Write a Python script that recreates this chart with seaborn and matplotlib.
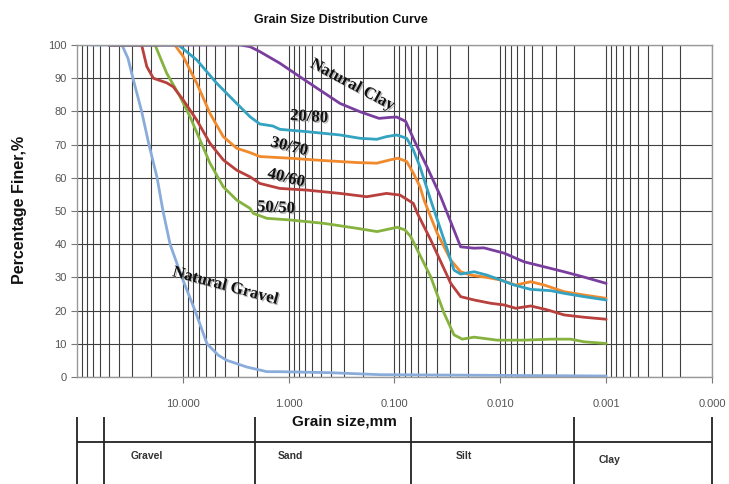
import numpy as np
import pandas as pd
import matplotlib
matplotlib.use('Agg')
import matplotlib.pyplot as plt
import matplotlib.patheffects as pe
from matplotlib import ticker
import seaborn as sns

# grain size (mm) and percentage finer
gravel_mm = [75, 37.6, 33.0, 29.6, 24.5, 20.9, 17.5, 15.4, 13.2, 10.2, 7.67, 5.91, 4.6, 3.82, 2.48, 1.60, 1.21, 0.407, 0.137, 0.001]
gravel_pct = [100, 100, 96, 90, 80, 70, 60, 50, 40, 30, 20, 10, 6.5, 5, 3, 1.6, 1.6, 1.3, 0.7, 0.3]

mix5050_mm = [50, 18.3, 14.2, 10.6, 8.55, 6.88, 5.54, 4.15, 3.10, 2.32, 2.16, 1.61, 0.971, 0.471, 0.228, 0.146,
              0.094, 0.0796, 0.0703, 0.0455, 0.034, 0.0274, 0.0229, 0.0177, 0.0107, 0.00597, 0.00334, 0.00216,
              0.00162, 0.001]
mix5050_pct = [100, 100, 91.5, 84.4, 78.4, 71.4, 64.4, 57.3, 53.3, 50.8, 49.3, 47.8, 47.3, 46.3, 44.8, 43.8,
               45.1, 44.3, 42.3, 30.2, 19.2, 12.7, 11.4, 12.0, 11.1, 11.1, 11.4, 11.4, 10.6, 10.1]

mix4060_mm = [50, 24.5, 21.9, 19.0, 14.2, 12.3, 9.9, 7.39, 5.54, 4.15, 3.10, 2.32, 1.87, 1.21, 0.676, 0.327,
              0.183, 0.119, 0.0887, 0.0664, 0.0608, 0.0455, 0.0294, 0.0237, 0.0177, 0.0123, 0.0092, 0.00716,
              0.00516, 0.00358, 0.0025, 0.00162, 0.001]
mix4060_pct = [100, 100, 93.5, 90, 88.6, 87.4, 83.4, 77.4, 70.4, 65.4, 62.3, 60.3, 58.3, 56.8, 56.3, 55.3,
               54.3, 55.3, 54.8, 52.3, 49.3, 41.3, 28.2, 24.2, 23.2, 22.2, 21.7, 20.7, 21.4, 20.2, 18.7, 18.0, 17.4]

mix3070_mm = [50, 11.9, 9.9, 7.39, 5.54, 4.15, 3.10, 2.32, 1.87, 0.971, 0.471, 0.228, 0.147, 0.110, 0.0927,
              0.0767, 0.0664, 0.0574, 0.0526, 0.0396, 0.0294, 0.0237, 0.0191, 0.0134, 0.0099, 0.00716, 0.00516,
              0.00386, 0.0025, 0.00162, 0.001]
mix3070_pct = [100, 100, 96.5, 88.5, 79.4, 72.4, 68.9, 67.6, 66.4, 65.9, 65.2, 64.6, 64.4, 65.4, 65.9,
               64.9, 61.4, 57.3, 53.3, 43.4, 35.2, 31.7, 30.7, 30.0, 29.2, 27.7, 28.7, 27.7, 25.7, 24.7, 23.7]

mix2080_mm = [50, 11.0, 7.39, 4.79, 3.10, 2.32, 1.87, 1.41, 1.21, 0.676, 0.327, 0.212, 0.147, 0.119, 0.0953,
              0.0767, 0.0664, 0.0574, 0.0455, 0.034, 0.0274, 0.0237, 0.0177, 0.0134, 0.0099, 0.0074, 0.00516,
              0.00334, 0.0025, 0.00162, 0.001]
mix2080_pct = [100, 100, 95.5, 88.5, 82.4, 78.4, 76.2, 75.6, 74.6, 73.9, 72.9, 71.9, 71.6, 72.4, 72.9,
               71.9, 68.4, 63.3, 53.3, 41.3, 32.2, 31.0, 31.7, 30.7, 29.2, 27.7, 26.4, 26.0, 25.2, 24.2, 23.2]

clay_mm = [50, 2.88, 2.32, 1.87, 1.21, 0.781, 0.506, 0.327, 0.212, 0.14, 0.11, 0.0953, 0.0784, 0.0654, 0.0493,
           0.0366, 0.0237, 0.0177, 0.0143, 0.0092, 0.00597, 0.00386, 0.0025, 0.00162, 0.001]
clay_pct = [100, 100, 99.5, 98, 94.5, 90.4, 86.4, 82.4, 79.9, 77.9, 78.2, 78.3, 77.0, 71.4, 63.3,
            54.3, 39.2, 38.8, 38.9, 37.3, 34.7, 33.2, 31.7, 30.1, 28.2]

names = ['Natural Gravel', '50/50', '40/60', '30/70', '20/80', 'Natural Clay']
colors = ['#8AACDB', '#86B23F', '#B8403D', '#F08A2C', '#34A2C1', '#7A3F9E']

tick_mm = [10, 1, 0.1, 0.01, 0.001, 0.0001]
tick_labels = ['10.000', '1.000', '0.100', '0.010', '0.001', '0.000']

zone_edges = [100, 55, 2.1, 0.07, 0.002, 0.0001]
zone_names = ['Gravel', 'Sand', 'Silt', 'Clay']
zone_label_mm = [30.9, 1.26, 0.0262, 0.00117]

sns.set_style('white')
plt.rcParams['font.family'] = ['Liberation Sans', 'DejaVu Sans']

series = [(gravel_mm, gravel_pct), (mix5050_mm, mix5050_pct), (mix4060_mm, mix4060_pct),
          (mix3070_mm, mix3070_pct), (mix2080_mm, mix2080_pct), (clay_mm, clay_pct)]
frames = []
for name, (mm, pct) in zip(names, series):
    frames.append(pd.DataFrame({'size': mm, 'pct': pct, 'sample': name}))
df = pd.concat(frames, ignore_index=True)

fig = plt.figure(figsize=(7.29, 4.84), dpi=100)
ax = fig.add_axes([77 / 729, 1 - 377 / 484, 635 / 729, 332 / 484])

sns.lineplot(data=df, x='size', y='pct', hue='sample', hue_order=names,
             palette=dict(zip(names, colors)), estimator=None, sort=False,
             lw=2, legend=False, ax=ax)

ax.set_xscale('log')
ax.set_xlim(100, 0.0001)
ax.set_ylim(0, 100)
ax.xaxis.set_major_locator(ticker.FixedLocator(tick_mm))
ax.xaxis.set_major_formatter(ticker.FixedFormatter(tick_labels))
ax.xaxis.set_minor_locator(ticker.LogLocator(base=10, subs=np.arange(2, 10), numticks=60))
ax.xaxis.set_minor_formatter(ticker.NullFormatter())
ax.set_yticks(range(0, 101, 10))
ax.grid(which='both', color='#404040', lw=0.8)
ax.set_axisbelow(True)
ax.tick_params(axis='both', which='major', labelsize=8, labelcolor='#555555',
               length=4, color='#777777', left=True, bottom=True)
ax.tick_params(axis='x', which='major', pad=12)
ax.tick_params(axis='x', which='minor', length=0)
ax.set_xlabel('')
ax.set_ylabel('')
for s in ax.spines.values():
    s.set_color('#999999')
    s.set_linewidth(1)

# curve labels
shadow = [pe.withSimplePatchShadow(offset=(1, -1), shadow_rgbFace='#888888', alpha=0.6)]
curve_labels = [('Natural Clay', 0.252, 88.0, -28), ('20/80', 0.643, 78.3, -4),
                ('30/70', 0.99, 69.3, -14), ('40/60', 1.06, 59.9, -14),
                ('50/50', 1.32, 50.9, -3), ('Natural Gravel', 4.0, 27.4, -15)]
for txt, x, y, rot in curve_labels:
    ax.text(x, y, txt, rotation=rot, ha='center', va='center', fontsize=12,
            fontweight='bold', family=['Liberation Serif', 'DejaVu Serif'],
            rotation_mode='anchor', color='#111111', path_effects=shadow)

fig.text(341 / 729, 1 - 20 / 484, 'Grain Size Distribution Curve', ha='center', va='center',
         fontsize=9, fontweight='bold', color='#111111')
fig.text(20 / 729, 1 - 210 / 484, 'Percentage Finer,%', ha='center', va='center',
         rotation=90, fontsize=11.5, fontweight='bold', color='#111111')
fig.text(344 / 729, 1 - 421 / 484, 'Grain size,mm', ha='center', va='center',
         fontsize=11, fontweight='bold', color='#111111')

# soil classification strip under the axis
ax2 = fig.add_axes([77 / 729, 0, 635 / 729, 67 / 484])
ax2.set_xscale('log')
ax2.set_xlim(100, 0.0001)
ax2.set_ylim(0, 1)
ax2.axis('off')
ax2.vlines(zone_edges, 0, 1, color='#222222', lw=1.3, clip_on=False)
ax2.hlines(0.627, 100, 0.0001, color='#222222', lw=1.3, clip_on=False)
for name, x in zip(zone_names, zone_label_mm):
    y = 0.36 if name == 'Clay' else 0.42
    ax2.text(x, y, name, ha='left', va='center', fontsize=7.5, fontweight='bold', color='#333333')

fig.savefig('out.png', dpi=100)
